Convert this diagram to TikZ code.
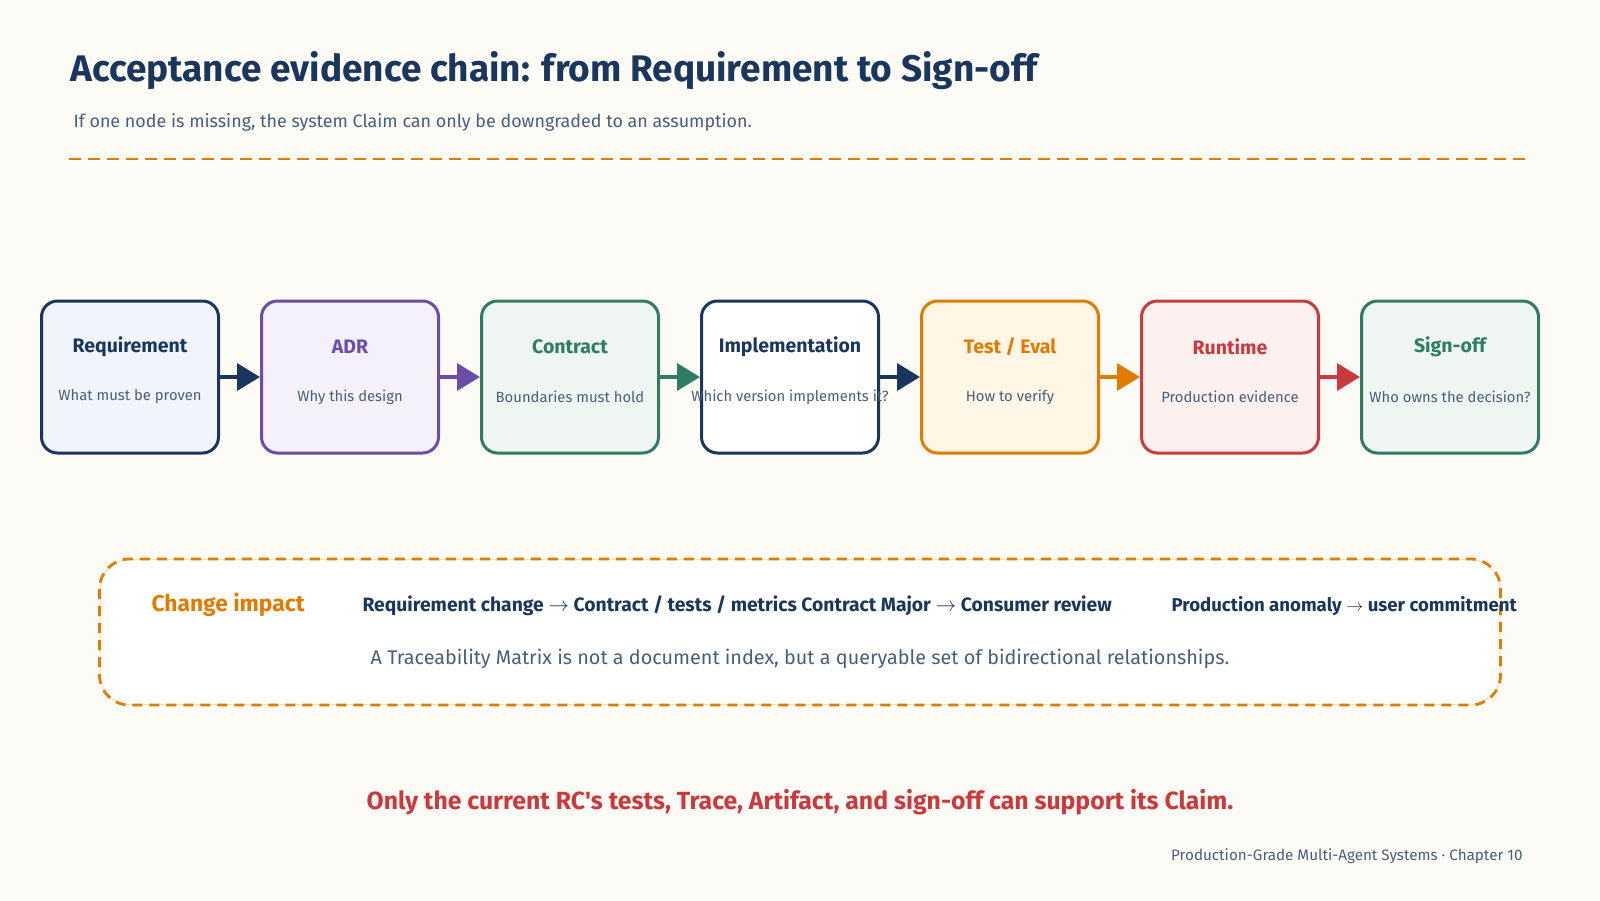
\documentclass[tikz,border=0pt]{standalone}
\usepackage{fontspec}
\setmainfont{Fira Sans}
\usetikzlibrary{arrows.meta}
\definecolor{bg}{HTML}{FDFBF6}
\definecolor{navy}{HTML}{1B365D}
\definecolor{slate}{HTML}{4A5E7A}
\definecolor{purp}{HTML}{6B4CA6}
\definecolor{grn}{HTML}{2E7D62}
\definecolor{orng}{HTML}{E07B00}
\definecolor{redc}{HTML}{C9393F}
\definecolor{fnavy}{HTML}{F1F5FB}
\definecolor{fpurp}{HTML}{F5F1FA}
\definecolor{fgrn}{HTML}{EFF6F2}
\definecolor{forng}{HTML}{FFF6E6}
\definecolor{fred}{HTML}{FDF1F0}
\definecolor{lightor}{HTML}{F6DDB8}
\newcommand{\fsz}[1]{\fontsize{#1}{#1}\selectfont}
\newcommand{\rarr}{\ensuremath{\rightarrow}}
\tikzset{
  stagebox/.style={draw=#1, line width=3pt, rounded corners=16pt, minimum width=177pt, minimum height=152pt},
  stagetitle/.style={font=\fsz{19.5}\bfseries, text=#1, anchor=center},
  stagesub/.style={font=\fsz{14.8}, text=slate, anchor=center},
  flowarrow/.style={draw=#1, line width=3.5pt, -{Triangle[length=23pt,width=27pt,fill=#1]}, shorten <=-2pt},
}
\begin{document}
\begin{tikzpicture}[x=1pt,y=-1pt]
\fill[bg] (0,0) rectangle (1600,900);
\useasboundingbox (0,0) rectangle (1600,900);
% title
\node[anchor=west, font=\fsz{37}\bfseries, text=navy] (title) at (67,71) {Acceptance evidence chain: from Requirement to Sign-off};
\node[anchor=west, font=\fsz{17.9}, text=slate] (subtitle) at (70,122) {If one node is missing, the system Claim can only be downgraded to an assumption.};
\coordinate (dl) at (69,159);
\coordinate (dr) at (1531,159);
\draw[orng, line width=2.8pt, dash pattern=on 12pt off 7pt] (dl) -- (dr);
% stages
\foreach \i/\nm/\col/\fil/\ttl/\sub in {
  0/s1/navy/fnavy/{Requirement}/{What must be proven},
  1/s2/purp/fpurp/{ADR}/{Why this design},
  2/s3/grn/fgrn/{Contract}/{Boundaries must hold},
  3/s4/navy/white/{Implementation}/{Which version implements it?},
  4/s5/orng/forng/{Test / Eval}/{How to verify},
  5/s6/redc/fred/{Runtime}/{Production evidence},
  6/s7/grn/fgrn/{Sign-off}/{Who owns the decision?}}{
  \node[stagebox=\col, fill=\fil] (\nm) at (130+220*\i,377) {};
  \node[stagetitle=\col] (\nm t) at (130+220*\i,347) {\ttl};
  \node[stagesub] (\nm s) at (130+220*\i,397) {\sub};
}
\draw[flowarrow=navy] (s1.east) -- (s2.west);
\draw[flowarrow=purp] (s2.east) -- (s3.west);
\draw[flowarrow=grn] (s3.east) -- (s4.west);
\draw[flowarrow=navy] (s4.east) -- (s5.west);
\draw[flowarrow=orng] (s5.east) -- (s6.west);
\draw[flowarrow=redc] (s6.east) -- (s7.west);
% change impact box
\node[draw=lightor, line width=1pt, fill=white, rounded corners=30pt, minimum width=1400pt, minimum height=145pt] (cib) at (800,632) {};
\draw[orng, line width=2.8pt, dash pattern=on 10pt off 7pt, rounded corners=30pt] (cib.north west) rectangle (cib.south east);
\node[anchor=west, font=\fsz{22.8}\bfseries, text=orng] (cit) at (148,605) {Change impact};
\node[anchor=west, font=\fsz{19.3}\bfseries, text=navy] (ci1) at (359,606) {Requirement change \rarr{} Contract / tests / metrics Contract Major \rarr{} Consumer review};
\node[anchor=west, font=\fsz{18.6}\bfseries, text=navy] (ci2) at (1168,606) {Production anomaly \rarr{} user commitment};
\node[font=\fsz{19.8}, text=slate] (trace) at (800,659) {A Traceability Matrix is not a document index, but a queryable set of bidirectional relationships.};
% bottom
\node[font=\fsz{24.8}\bfseries, text=redc] (claim) at (800,802) {Only the current RC\textquotesingle s tests, Trace, Artifact, and sign-off can support its Claim.};
\node[anchor=east, font=\fsz{15.2}, text=slate] (footer) at (1526,856) {Production-Grade Multi-Agent Systems · Chapter 10};
\end{tikzpicture}
\end{document}
